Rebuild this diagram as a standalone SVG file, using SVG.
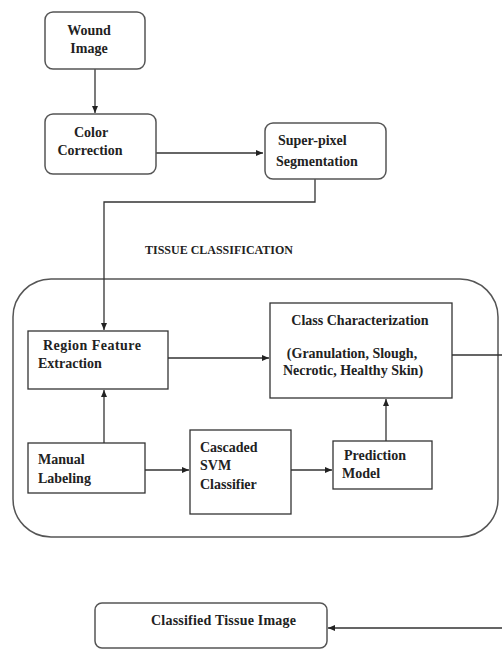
<svg xmlns="http://www.w3.org/2000/svg" width="502" height="649" viewBox="0 0 502 649">
<style>
.rb{fill:#fff;stroke:#555;stroke-width:1.5}
.sb{fill:#fff;stroke:#333;stroke-width:1.3}
.t{font-family:"Liberation Serif","Times New Roman",serif;font-weight:bold;font-size:14px;fill:#222}
.c{fill:none;stroke:#333;stroke-width:1.3}
</style>
<defs>
<marker id="ah" markerWidth="8" markerHeight="8" refX="7" refY="4" orient="auto" markerUnits="userSpaceOnUse">
<path d="M0,1 L7,4 L0,7 Z" fill="#222"/>
</marker>
</defs>
<rect width="502" height="649" fill="#fff"/>
<g id="tissue-classification">
<rect x="13" y="279" width="485" height="258" rx="38" ry="38" fill="none" stroke="#555" stroke-width="1.5"/>
<text x="145" y="254" class="t" style="font-size:12px" textLength="148" lengthAdjust="spacingAndGlyphs">TISSUE CLASSIFICATION</text>
</g>
<g id="connectors">
<path class="c" d="M95,69 V113" marker-end="url(#ah)"/>
<path class="c" d="M156,153 H263" marker-end="url(#ah)"/>
<path class="c" d="M315,179 V202 H104 V330" marker-end="url(#ah)"/>
<path class="c" d="M104,443 V390" marker-end="url(#ah)"/>
<path class="c" d="M168,358 H269" marker-end="url(#ah)"/>
<path class="c" d="M145,470 H189" marker-end="url(#ah)"/>
<path class="c" d="M291,470 H332" marker-end="url(#ah)"/>
<path class="c" d="M386,441 V399" marker-end="url(#ah)"/>
<path class="c" d="M452,355 H508 V628 H328" marker-end="url(#ah)"/>
</g>
<g id="wound-image">
<rect class="rb" x="45" y="12" width="100" height="57" rx="8"/>
<text class="t" x="89" y="35" text-anchor="middle">Wound</text>
<text class="t" x="89" y="53" text-anchor="middle">Image</text>
</g>
<g id="color-correction">
<rect class="rb" x="45" y="114" width="111" height="60" rx="8"/>
<text class="t" x="91" y="137" text-anchor="middle">Color</text>
<text class="t" x="90" y="155" text-anchor="middle">Correction</text>
</g>
<g id="superpixel-segmentation">
<rect class="rb" x="265" y="123" width="121" height="56" rx="8"/>
<text class="t" x="278" y="145">Super-pixel</text>
<text class="t" x="276" y="166">Segmentation</text>
</g>
<g id="region-feature-extraction">
<rect class="sb" x="28" y="331" width="140" height="58"/>
<text class="t" x="43" y="350" textLength="98">Region Feature</text>
<text class="t" x="38" y="368">Extraction</text>
</g>
<g id="class-characterization">
<rect class="sb" x="270" y="303" width="182" height="95"/>
<text class="t" x="360" y="325" text-anchor="middle">Class Characterization</text>
<text class="t" x="352" y="358" text-anchor="middle">(Granulation, Slough,</text>
<text class="t" x="353" y="375" text-anchor="middle">Necrotic, Healthy Skin)</text>
</g>
<g id="manual-labeling">
<rect class="sb" x="28" y="443" width="117" height="50"/>
<text class="t" x="38" y="464">Manual</text>
<text class="t" x="38" y="483">Labeling</text>
</g>
<g id="cascaded-svm-classifier">
<rect class="sb" x="190" y="430" width="101" height="84"/>
<text class="t" x="200" y="452">Cascaded</text>
<text class="t" x="200" y="470">SVM</text>
<text class="t" x="200" y="489">Classifier</text>
</g>
<g id="prediction-model">
<rect class="sb" x="333" y="441" width="99" height="48"/>
<text class="t" x="344" y="460">Prediction</text>
<text class="t" x="342" y="478">Model</text>
</g>
<g id="classified-tissue-image">
<rect class="rb" x="95" y="603" width="232" height="45" rx="7"/>
<text class="t" x="151" y="625" textLength="145">Classified Tissue Image</text>
</g>
</svg>
